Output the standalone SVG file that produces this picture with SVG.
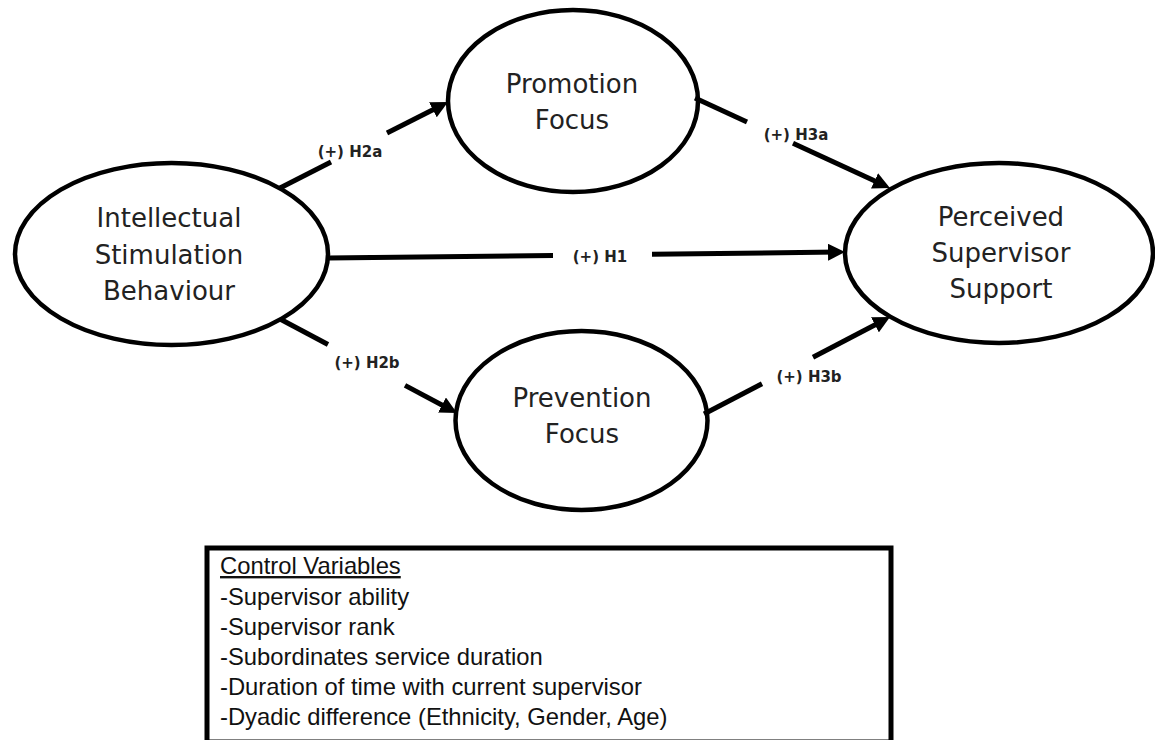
<svg xmlns="http://www.w3.org/2000/svg" width="1155" height="740" viewBox="0 0 1155 740">
  <style>
    .node ellipse { fill: #ffffff; stroke: #000000; stroke-width: 4.5; }
    .ntext { font-family: "DejaVu Sans", Verdana, sans-serif; font-size: 26px; fill: #222222; text-anchor: middle; }
    .conn line { stroke: #000000; stroke-width: 5; fill: none; }
    .lbl { font-family: "DejaVu Sans", Verdana, sans-serif; font-size: 15px; font-weight: bold; fill: #222222; text-anchor: middle; }
    .box rect { fill: #ffffff; stroke: #000000; stroke-width: 5; }
    .btext { font-family: "Liberation Sans", Arial, sans-serif; font-size: 23.8px; fill: #111111; }
  </style>
  <defs>
    <marker id="arrow" markerUnits="userSpaceOnUse" markerWidth="17" markerHeight="17" refX="10" refY="8.5" orient="auto">
      <path d="M0,0 L17,8.5 L0,17 z" fill="#000000"/>
    </marker>
  </defs>
  <rect width="1155" height="740" fill="#ffffff"/>

  <g id="node-isb" class="node">
    <ellipse cx="171.5" cy="254" rx="156.5" ry="91"/>
    <text class="ntext" x="169" y="227">Intellectual</text>
    <text class="ntext" x="169" y="263.5">Stimulation</text>
    <text class="ntext" x="169" y="300">Behaviour</text>
  </g>

  <g id="node-promotion" class="node">
    <ellipse cx="573" cy="101" rx="125" ry="91"/>
    <text class="ntext" x="572" y="92.5">Promotion</text>
    <text class="ntext" x="572" y="128.5">Focus</text>
  </g>

  <g id="node-prevention" class="node">
    <ellipse cx="581.5" cy="420.5" rx="126" ry="89.5"/>
    <text class="ntext" x="582" y="407">Prevention</text>
    <text class="ntext" x="582" y="443">Focus</text>
  </g>

  <g id="node-pss" class="node">
    <ellipse cx="999" cy="253" rx="154" ry="90"/>
    <text class="ntext" x="1001" y="226">Perceived</text>
    <text class="ntext" x="1001" y="262">Supervisor</text>
    <text class="ntext" x="1001" y="298">Support</text>
  </g>

  <g id="connectors" class="conn">
    <!-- H2a -->
    <line x1="280" y1="188" x2="331" y2="162"/>
    <line x1="387" y1="133" x2="441.8" y2="105.2" marker-end="url(#arrow)"/>
    <!-- H3a -->
    <line x1="695" y1="98" x2="747" y2="122"/>
    <line x1="793" y1="143.2" x2="883.6" y2="185.1" marker-end="url(#arrow)"/>
    <!-- H1 -->
    <line x1="328" y1="258" x2="553" y2="255.4"/>
    <line x1="652" y1="254.2" x2="838" y2="252.1" marker-end="url(#arrow)"/>
    <!-- H2b -->
    <line x1="280" y1="319" x2="328" y2="344.5"/>
    <line x1="405" y1="385.4" x2="450.8" y2="409.7" marker-end="url(#arrow)"/>
    <!-- H3b -->
    <line x1="704" y1="414" x2="762" y2="383.8"/>
    <line x1="813" y1="357.2" x2="883.8" y2="320.2" marker-end="url(#arrow)"/>
  </g>

  <g id="labels">
    <text class="lbl" x="350" y="157">(+) H2a</text>
    <text class="lbl" x="796" y="140">(+) H3a</text>
    <text class="lbl" x="600" y="262">(+) H1</text>
    <text class="lbl" x="367" y="368">(+) H2b</text>
    <text class="lbl" x="809" y="382">(+) H3b</text>
  </g>

  <g id="control-variables" class="box">
    <rect x="207" y="548" width="684" height="194"/>
    <text class="btext" x="220" y="574" text-decoration="underline">Control Variables</text>
    <text class="btext" x="220" y="605">-Supervisor ability</text>
    <text class="btext" x="220" y="635">-Supervisor rank</text>
    <text class="btext" x="220" y="665">-Subordinates service duration</text>
    <text class="btext" x="220" y="695">-Duration of time with current supervisor</text>
    <text class="btext" x="220" y="725">-Dyadic difference (Ethnicity, Gender, Age)</text>
  </g>
</svg>
